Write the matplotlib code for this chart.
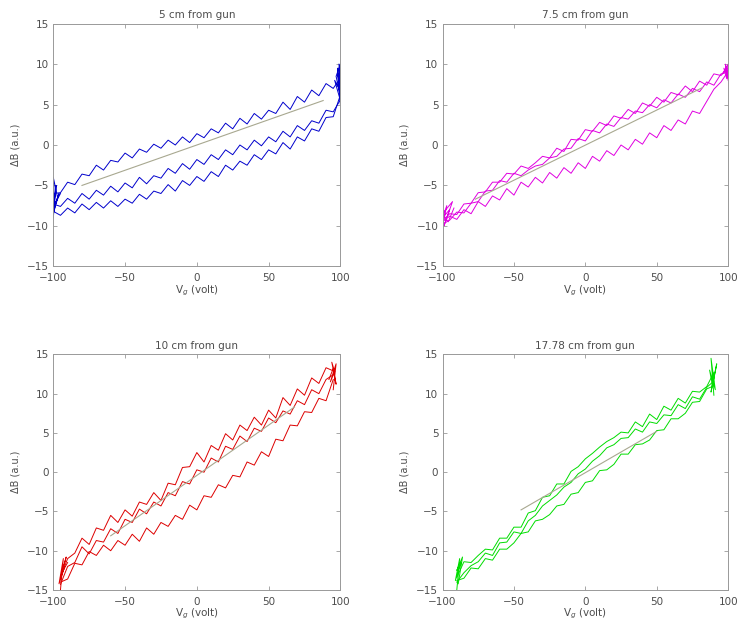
import matplotlib
matplotlib.use('Agg')
import matplotlib.pyplot as plt

# grid of gate voltages (volt)
X5 = [-100, -95, -90, -85, -80, -75, -70, -65, -60, -55, -50, -45, -40, -35, -30, -25, -20,
      -15, -10, -5, 0, 5, 10, 15, 20, 25, 30, 35, 40, 45, 50, 55, 60, 65, 70, 75, 80, 85, 90, 95, 100]
XR = X5[1:-1]
XG = X5[2:-2]

#### 5 cm from gun
B_UP = [-6.0, -5.9, -4.6, -4.9, -3.6, -3.8, -2.5, -3.1, -1.9, -2.1, -1.0, -1.6, -0.5, -0.9, 0.1, -0.4,
        0.6, 0.0, 1.0, 0.3, 1.4, 0.9, 2.0, 1.5, 2.7, 2.0, 3.3, 2.6, 3.9, 3.2, 4.3, 3.9, 5.3, 4.4, 6.0,
        5.3, 6.8, 6.1, 7.6, 7.0, 8.3]
B_LO1 = [-7.3, -7.6, -6.6, -7.2, -6.0, -6.7, -5.6, -6.2, -5.1, -5.8, -4.7, -5.3, -4.0, -4.8, -3.8, -4.1,
         -2.9, -3.5, -2.3, -3.0, -1.8, -2.4, -1.2, -1.8, -0.6, -1.2, 0.0, -0.6, 0.6, -0.1, 1.0, 0.4,
         1.7, 1.0, 2.4, 1.8, 3.0, 2.7, 4.3, 4.1, 5.6]
B_LO2 = [-8.2, -8.7, -7.8, -8.4, -7.3, -8.0, -7.1, -7.8, -6.9, -7.6, -6.7, -7.2, -6.1, -6.7, -5.7, -6.0,
         -4.9, -5.7, -4.4, -5.0, -3.9, -4.5, -3.3, -3.9, -2.5, -3.1, -2.0, -2.5, -1.2, -1.8, -0.6, -1.1,
         0.3, -0.5, 1.0, 0.5, 2.0, 1.7, 3.4, 3.5, 6.2]
B_END_X = [100, 98, 100, 97, 100, 99, 96, 100, 98, 100, 99]
B_END_Y = [5.0, 9.5, 6.0, 8.5, 10.0, 7.0, 8.0, 5.5, 9.0, 7.5, 10.0]
B_BEG_X = [-100, -98, -100, -97, -100, -99, -96, -100, -98, -95]
B_BEG_Y = [-9.0, -5.0, -8.0, -6.5, -4.0, -7.5, -6.0, -8.5, -7.0, -6.0]
B_FIT_X = [-80, 88]
B_FIT_Y = [-5.0, 5.5]

#### 7.5 cm from gun
M_UP1 = [-9.4, -8.5, -8.6, -7.3, -7.2, -5.9, -5.8, -4.6, -4.6, -3.5, -3.6, -2.6, -2.9, -2.2, -1.4, -1.6,
         -0.4, -0.8, 0.7, 0.6, 1.9, 1.7, 2.8, 2.4, 3.6, 3.3, 4.4, 3.9, 5.2, 4.8, 5.9, 5.3, 6.5, 6.2,
         7.3, 6.6, 7.9, 7.4, 8.8, 8.6, 9.6]
M_UP2 = [-9.8, -9.3, -8.3, -8.4, -7.2, -7.0, -5.7, -5.6, -4.4, -4.6, -3.5, -3.8, -3.1, -2.6, -2.4, -1.6,
         -1.4, -0.5, -0.4, 0.8, 0.5, 1.8, 1.5, 2.6, 2.3, 3.4, 3.2, 4.2, 4.0, 5.0, 4.6, 5.6, 5.2, 6.3,
         5.9, 7.0, 6.6, 7.8, 7.4, 8.8, 9.0]
M_LO = [-9.5, -8.8, -9.2, -8.0, -8.5, -7.0, -7.6, -6.3, -6.8, -5.4, -6.2, -4.6, -5.2, -4.0, -4.7, -3.4,
        -4.1, -2.8, -3.5, -2.2, -2.9, -1.4, -2.0, -0.7, -1.3, 0.0, -0.6, 0.7, 0.1, 1.5, 0.9, 2.4, 1.8,
        3.1, 2.6, 4.2, 3.9, 5.4, 6.9, 7.8, 9.1]
M_END_X = [100, 98, 100, 97, 99, 100, 96, 98]
M_END_Y = [8.0, 10.0, 8.5, 9.5, 8.2, 10.0, 8.8, 9.2]
M_BEG_X = [-100, -97, -100, -95, -99, -93, -100, -96, -92]
M_BEG_Y = [-10.0, -7.5, -9.0, -8.0, -10.0, -7.0, -8.5, -9.5, -7.8]
M_FIT_X = [-77, 82]
M_FIT_Y = [-6.7, 7.1]

#### 10 cm from gun
R_UP1 = [-13.4, -11.0, -10.3, -8.4, -9.2, -7.1, -7.4, -5.5, -6.4, -4.8, -5.6, -3.8, -4.1, -2.6, -3.6,
         -1.4, -1.6, 0.6, 0.7, 2.5, 1.3, 3.4, 2.8, 4.9, 4.1, 6.0, 5.3, 7.0, 6.0, 7.9, 6.9, 9.5, 8.5,
         10.6, 9.8, 12.0, 11.3, 13.3, 12.9]
R_UP2 = [-14.3, -12.0, -11.5, -9.5, -10.4, -8.7, -8.9, -7.2, -7.8, -6.0, -6.4, -4.7, -5.3, -3.8, -4.3,
         -2.6, -3.0, -1.2, -1.5, 0.3, 0.0, 1.8, 1.3, 3.3, 2.9, 4.6, 3.9, 5.6, 5.2, 6.9, 6.3, 7.8, 7.4,
         9.1, 8.6, 10.5, 10.0, 11.8, 12.4]
R_LO = [-14.0, -13.6, -11.6, -11.8, -10.1, -10.6, -9.3, -10.0, -8.7, -9.3, -7.9, -8.8, -7.1, -7.9,
        -6.4, -6.9, -5.5, -6.0, -4.2, -4.8, -3.0, -3.2, -1.6, -2.0, -0.4, -0.6, 1.3, 0.9, 2.6, 2.0,
        4.2, 4.0, 6.0, 5.9, 7.7, 7.6, 9.4, 9.1, 11.8]
R_END_X = [95, 97, 93, 96, 94, 97, 95, 92]
R_END_Y = [10.5, 13.8, 11.5, 12.8, 14.0, 11.2, 13.2, 11.8]
R_BEG_X = [-95, -93, -96, -92, -95, -91, -94, -90]
R_BEG_Y = [-15.0, -11.0, -14.2, -12.0, -13.5, -10.8, -12.8, -11.5]
R_FIT_X = [-60, 68]
R_FIT_Y = [-8.1, 8.3]

#### 17.78 cm from gun
G_UP1 = [-13.4, -11.4, -11.5, -10.6, -9.8, -9.9, -8.4, -8.4, -7.0, -7.0, -5.2, -4.9, -3.2, -3.0, -1.5,
         -1.5, 0.1, 0.7, 1.7, 2.4, 3.2, 3.9, 4.4, 5.1, 5.0, 6.4, 5.8, 7.4, 6.7, 8.4, 7.9, 9.4, 8.8,
         10.3, 10.2, 10.9, 12.7]
G_UP2 = [-14.0, -12.8, -11.9, -11.4, -10.3, -10.6, -9.0, -8.9, -7.6, -7.8, -6.2, -5.5, -4.3, -3.6,
         -2.9, -1.9, -1.3, -0.2, 0.4, 1.4, 2.1, 3.1, 3.5, 4.3, 4.4, 5.5, 5.1, 6.4, 6.2, 7.3, 7.2, 8.6,
         8.1, 9.6, 9.3, 10.8, 11.6]
G_LO = [-13.8, -13.5, -12.2, -12.3, -11.0, -11.2, -9.8, -9.8, -9.0, -7.8, -7.6, -6.2, -6.0, -5.4,
        -4.3, -4.1, -2.8, -2.6, -1.3, -1.1, 0.2, 0.3, 1.0, 2.3, 2.3, 3.5, 3.6, 4.1, 5.3, 5.4, 6.8, 6.8,
        7.5, 8.9, 9.0, 10.6, 11.0]
G_END_X = [90, 88, 91, 87, 89, 92, 88, 90]
G_END_Y = [9.8, 14.5, 10.5, 13.0, 11.0, 13.8, 10.2, 12.5]
G_BEG_X = [-90, -88, -91, -87, -90, -86, -89]
G_BEG_Y = [-15.0, -11.0, -13.8, -11.5, -12.5, -10.8, -14.2]
G_FIT_X = [-45, 50]
G_FIT_Y = [-4.8, 5.2]

panels = [
    ('5 cm from gun', '#0000cc', [(X5, B_UP), (X5, B_LO1), (X5, B_LO2),
                                  (B_END_X, B_END_Y), (B_BEG_X, B_BEG_Y)], (B_FIT_X, B_FIT_Y)),
    ('7.5 cm from gun', '#e000e0', [(X5, M_UP1), (X5, M_UP2), (X5, M_LO),
                                    (M_END_X, M_END_Y), (M_BEG_X, M_BEG_Y)], (M_FIT_X, M_FIT_Y)),
    ('10 cm from gun', '#dd0000', [(XR, R_UP1), (XR, R_UP2), (XR, R_LO),
                                   (R_END_X, R_END_Y), (R_BEG_X, R_BEG_Y)], (R_FIT_X, R_FIT_Y)),
    ('17.78 cm from gun', '#00dd00', [(XG, G_UP1), (XG, G_UP2), (XG, G_LO),
                                      (G_END_X, G_END_Y), (G_BEG_X, G_BEG_Y)], (G_FIT_X, G_FIT_Y)),
]

# axes boxes, in figure fractions
boxes = [(0.072, 0.574, 0.388, 0.388), (0.598, 0.574, 0.386, 0.388),
         (0.072, 0.056, 0.388, 0.377), (0.598, 0.056, 0.386, 0.377)]

fig = plt.figure(figsize=(7.4, 6.25), dpi=100)
txt = '0.3'

for (title, col, traces, fit), box in zip(panels, boxes):
    ax = fig.add_axes(box)
    for xs, ys in traces:
        ax.plot(xs, ys, color=col, lw=0.7)
    ax.plot(fit[0], fit[1], color='#a8a890', lw=0.8)
    ax.set_xlim(-100, 100)
    ax.set_ylim(-15, 15)
    ax.set_xticks([-100, -50, 0, 50, 100])
    ax.set_yticks([-15, -10, -5, 0, 5, 10, 15])
    ax.tick_params(direction='in', top=True, right=True, labelsize=7.5,
                   colors='0.6', labelcolor=txt, length=3, width=0.6)
    ax.tick_params(axis='x', pad=5)
    ax.tick_params(axis='y', pad=3)
    for s in ax.spines.values():
        s.set_color('0.6')
        s.set_linewidth(0.7)
    ax.set_title(title, fontsize=7.5, color=txt, pad=4)
    ax.set_xlabel('V$_g$ (volt)', fontsize=7.5, color=txt, labelpad=0)
    ax.set_ylabel('ΔB (a.u.)', fontsize=7, color=txt, labelpad=5)

plt.savefig('out.png', dpi=100)
